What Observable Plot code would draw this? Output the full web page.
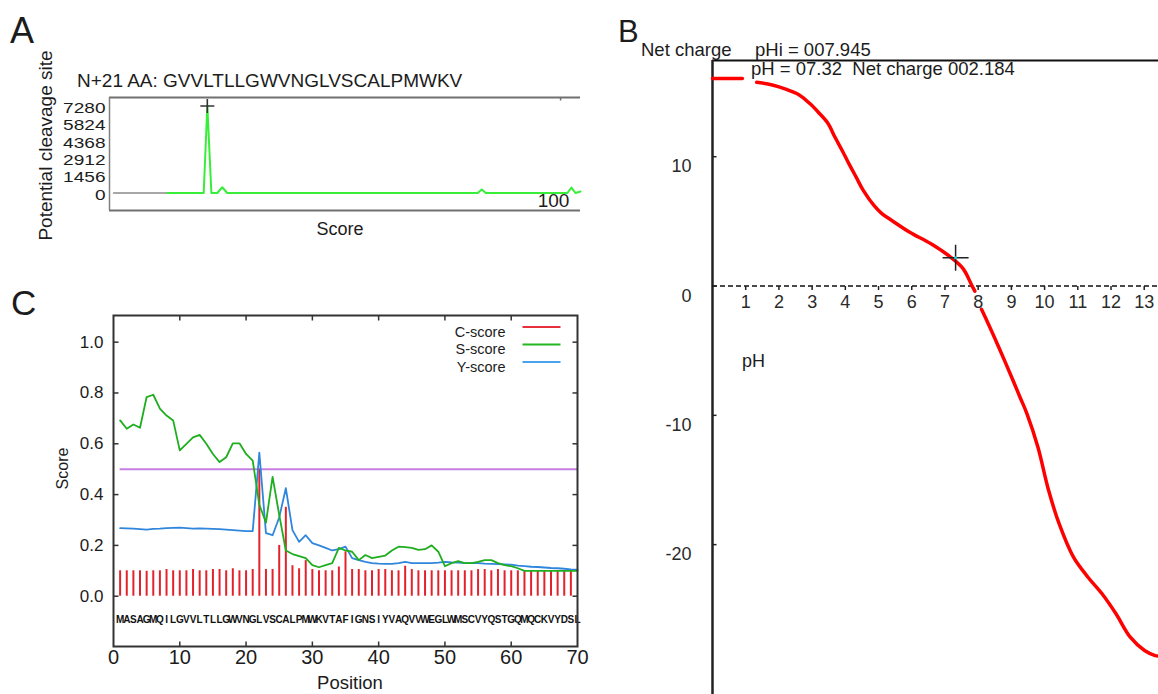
<!DOCTYPE html>
<html><head><meta charset="utf-8">
<script src="https://cdn.jsdelivr.net/npm/d3@7"></script>
<script src="https://cdn.jsdelivr.net/npm/@observablehq/plot@0.6"></script>
<style>
html,body{margin:0;padding:0;background:#fff;}
#root{position:relative;width:1158px;height:694px;overflow:hidden;font-family:"Liberation Sans",Arial,Helvetica,sans-serif;color:#1c1c1c;background:#fff;}
.lbl{position:absolute;line-height:1;white-space:pre;}
</style></head><body><div id="root"></div>
<script>
// ---------------- Panel A data ----------------
const aTitle = "N+21 AA: GVVLTLLGWVNGLVSCALPMWKV";
const aYLabel = "Potential cleavage site";
const aXLabel = "Score";
const aYTicks = [0, 1456, 2912, 4368, 5824, 7280];
const aXTicks = [100];
const aBasePos = [1.3, 13.2];
const aBaseVal = [0, 0];
const aPos = [13.2, 21.2, 22, 22.9, 24.2, 25.3, 26.4, 81.7, 82.6, 83.5, 101.5, 102.4, 103.3, 104.4];
const aVal = [0, 0, 7280, 0, 0, 480, 0, 0, 300, 0, 0, 450, 0, 120];
const aPeak = [{pos: 22, val: 7280}];
const aXDomain = [0.4, 104.4];
const aYDomain = [-1464, 7991];

// ---------------- Panel B data ----------------
const bPH = [0, 0.45, 0.9,
  1.33, 1.8, 2.18, 2.6, 2.94, 3.2, 3.47, 3.69, 3.9, 4.11, 4.33, 4.54, 4.86, 5.1, 5.4, 5.94, 6.58, 7.17, 7.55, 7.81, 7.9,
  8.1, 8.3, 8.62, 9.05, 9.26, 9.47, 9.8, 10.12, 10.44, 10.87, 11.3, 11.73, 12.15, 12.58, 13.01, 13.33, 13.43];
const bCharge = [16.05, 16.05, 16.05,
  15.76, 15.55, 15.25, 14.8, 14.09, 13.4, 12.6, 11.5, 10.5, 9.45, 8.4, 7.39, 6.23, 5.6, 5.07, 4.16, 3.26, 2.23, 1.33, 0.04, -0.4,
  -1.8, -2.9, -4.73, -7.31, -8.6, -9.88, -12.47, -15.8, -18.4, -20.97, -22.5, -23.8, -25.35, -27.16, -28.19, -28.58, -28.62];
const bSeg = [0, 0, 0,
  1, 1, 1, 1, 1, 1, 1, 1, 1, 1, 1, 1, 1, 1, 1, 1, 1, 1, 1, 1, 1,
  2, 2, 2, 2, 2, 2, 2, 2, 2, 2, 2, 2, 2, 2, 2, 2, 2];
const bXTicks = [1, 2, 3, 4, 5, 6, 7, 8, 9, 10, 11, 12, 13];
const bYTicks = [10, 0, -10, -20];
const bZero = [0];
const bMark = [{pH: 7.32, charge: 2.184}];
const bXDomain = [0, 13.43];
const bYDomain = [-31.59, 17.44];
const bTexts = {
  netCharge: "Net charge",
  pHi: "pHi = 007.945",
  mark: "pH = 07.32  Net charge 002.184",
  xLabel: "pH"
};

// ---------------- Panel C data ----------------
const cSeqString = "MASAGMQILGVVLTLLGWVNGLVSCALPMWKVTAFIGNSIYVAQVVWEGLWMSCVYQSTGQMQCKVYDSL";
const cSeq = cSeqString.split("");
const cCPos = [1,2,3,4,5,6,7,8,9,10,11,12,13,14,15,16,17,18,19,20,21,22,23,24,25,26,27,28,29,30,31,32,33,34,35,
  36,37,38,39,40,41,42,43,44,45,46,47,48,49,50,51,52,53,54,55,56,57,58,59,60,61,62,63,64,65,66,67,68,69];
const cCScore = [0.10,0.10,0.10,0.10,0.098,0.10,0.10,0.105,0.10,0.10,0.10,0.105,0.10,0.10,0.105,0.105,0.10,0.108,0.10,0.10,
  0.105,0.50,0.105,0.105,0.20,0.35,0.12,0.108,0.14,0.105,0.10,0.10,0.10,0.115,0.175,0.105,0.105,0.10,0.10,0.105,
  0.105,0.10,0.10,0.118,0.105,0.10,0.10,0.10,0.10,0.10,0.10,0.10,0.10,0.10,0.105,0.105,0.10,0.105,0.10,0.10,
  0.10,0.10,0.10,0.10,0.10,0.10,0.10,0.10,0.10];
const cLinePos = [1,2,3,4,5,6,7,8,9,10,11,12,13,14,15,16,17,18,19,20,21,22,23,24,25,26,27,28,29,30,31,32,33,34,35,
  36,37,38,39,40,41,42,43,44,45,46,47,48,49,50,51,52,53,54,55,56,57,58,59,60,61,62,63,64,65,66,67,68,69,70];
const cSScore = [0.692,0.659,0.676,0.663,0.784,0.793,0.738,0.711,0.692,0.574,0.60,0.625,0.635,0.60,0.56,0.528,0.547,0.602,0.602,0.56,
  0.534,0.36,0.29,0.47,0.32,0.18,0.166,0.158,0.15,0.122,0.114,0.122,0.13,0.19,0.18,0.175,0.142,0.162,0.15,0.155,
  0.16,0.18,0.195,0.193,0.19,0.182,0.185,0.20,0.175,0.118,0.13,0.138,0.13,0.13,0.135,0.142,0.142,0.13,0.122,0.118,
  0.11,0.10,0.10,0.10,0.10,0.10,0.10,0.10,0.10,0.10];
const cYScore = [0.268,0.267,0.266,0.264,0.262,0.265,0.266,0.268,0.269,0.27,0.268,0.266,0.267,0.266,0.265,0.264,0.262,0.26,0.258,0.256,
  0.256,0.565,0.248,0.24,0.31,0.425,0.26,0.214,0.24,0.209,0.20,0.19,0.18,0.185,0.195,0.15,0.142,0.135,0.13,0.128,
  0.127,0.127,0.13,0.135,0.13,0.13,0.13,0.13,0.132,0.135,0.133,0.132,0.13,0.13,0.13,0.128,0.127,0.126,0.125,0.124,
  0.12,0.118,0.116,0.115,0.113,0.111,0.11,0.108,0.106,0.105];
const cThreshold = [0.5];
const cXTicks = [0, 10, 20, 30, 40, 50, 60, 70];
const cXInner = [10, 20, 30, 40, 50, 60];
const cYTicks = [0, 0.2, 0.4, 0.6, 0.8, 1.0];
const cLegend = ["C-score", "S-score", "Y-score"];
const cColors = ["#e4222c", "#1fae1f", "#2f86dc"];
const cLegendColors = ["#e8303c", "#22b822", "#4aa2ec"];
const cYLabel = "Score";
const cXLabel = "Position";
const cXDomain = [0, 70];
const cYDomain = [-0.198, 1.105];

// ---------------- helpers ----------------
const FONT = '"Liberation Sans", Arial, Helvetica, sans-serif';
const root = document.getElementById("root");
const INK = "#1c1c1c";

function label(text, x, baseline, size, opts = {}) {
  const d = document.createElement("div");
  d.className = "lbl";
  d.textContent = text;
  d.style.fontSize = size + "px";
  if (opts.weight) d.style.fontWeight = opts.weight;
  d.style.top = (baseline - 0.8465 * size) + "px";
  d.style.left = x + "px";
  if (opts.anchor === "middle") d.style.transform = "translateX(-50%)";
  root.appendChild(d);
}
function mount(svg, left, top) {
  svg.style.position = "absolute";
  svg.style.left = left + "px";
  svg.style.top = top + "px";
  root.appendChild(svg);
}
const vline = L => ({draw(c) { c.moveTo(0, 0); c.lineTo(0, L); }});
const hline = L => ({draw(c) { c.moveTo(0, 0); c.lineTo(L, 0); }});
const hseg = L => ({draw(c) { c.moveTo(-L, 0); c.lineTo(L, 0); }});
const cross = L => ({draw(c) { c.moveTo(-L, 0); c.lineTo(L, 0); c.moveTo(0, -L); c.lineTo(0, L); }});
const baseStyle = {fontFamily: FONT, background: "transparent", overflow: "visible", color: INK};

// ---------------- Panel A ----------------
const aLine = aPos.map((p, i) => ({pos: p, val: aVal[i]}));
const aBase = aBasePos.map((p, i) => ({pos: p, val: aBaseVal[i]}));
const plotA = Plot.plot({
  width: 600, height: 240,
  marginLeft: 109, marginRight: 20, marginTop: 97, marginBottom: 30,
  x: {domain: aXDomain, axis: null},
  y: {domain: aYDomain, axis: null},
  style: baseStyle,
  marks: [
    Plot.ruleY(aYDomain, {stroke: "#707070", strokeWidth: 2}),
    Plot.ruleX([aXDomain[0]], {stroke: "#808080", strokeWidth: 1.5}),
    Plot.dot(aXTicks, {x: d => d, frameAnchor: "top", symbol: vline(3), stroke: "#707070", fill: "none"}),
    Plot.line(aBase, {x: "pos", y: "val", stroke: "#8a8a8a", strokeWidth: 1.6}),
    Plot.line(aLine, {x: "pos", y: "val", stroke: "#38ee38", strokeWidth: 2}),
    Plot.dot(aPeak, {x: "pos", y: "val", symbol: cross(7), stroke: "#333", strokeWidth: 1.6, fill: "none"}),
    Plot.text(aYTicks, {y: d => d, text: d => String(d), frameAnchor: "left", dx: -4, dy: 2, textAnchor: "end", fontSize: 15, fill: INK}),
    Plot.text(aXTicks, {x: d => d, text: d => String(d), frameAnchor: "bottom", dx: -7, dy: -4, fontSize: 19, fill: INK}),
    Plot.text([aYLabel], {x: null, y: null, text: d => d, frameAnchor: "left", textAnchor: "middle", rotate: -90, dx: -64, dy: -8.5, fontSize: 19, fill: INK})
  ]
});
// the reference's tick numbers in panel A are drawn wide: stretch glyphs horizontally
const aTickGroup = plotA.querySelectorAll('g[aria-label="text"]')[0];
if (aTickGroup) aTickGroup.querySelectorAll("text").forEach(t => {
  t.setAttribute("textLength", 10.6 * t.textContent.length);
  t.setAttribute("lengthAdjust", "spacingAndGlyphs");
});
mount(plotA, 0, 0);

// ---------------- Panel B ----------------
const bData = bPH.map((p, i) => ({pH: p, charge: bCharge[i], seg: bSeg[i]}));
const plotB = Plot.plot({
  width: 558, height: 694,
  marginLeft: 112, marginRight: 0, marginTop: 60, marginBottom: 0,
  x: {domain: bXDomain, axis: null},
  y: {domain: bYDomain, axis: null},
  style: baseStyle,
  marks: [
    Plot.ruleY([bYDomain[1]], {stroke: "#111", strokeWidth: 2}),
    Plot.ruleX([bXDomain[0]], {stroke: "#222", strokeWidth: 2.5}),
    Plot.ruleY(bZero, {stroke: "#111", strokeWidth: 1.6, strokeDasharray: "5,3"}),
    Plot.dot(bXTicks, {x: d => d, y: () => bZero[0], symbol: vline(4), stroke: "#222", fill: "none"}),
    Plot.dot(bYTicks, {y: d => d, frameAnchor: "left", symbol: hline(4), stroke: "#222", strokeWidth: 1.5, fill: "none"}),
    Plot.line(bData, {x: "pH", y: "charge", z: "seg", stroke: "#ff0000", strokeWidth: 3.5, curve: "catmull-rom"}),
    Plot.dot(bMark, {x: "pH", y: "charge", symbol: cross(13), stroke: "#222", strokeWidth: 1.5, fill: "none"}),
    Plot.dot(bMark, {x: "pH", y: "charge", r: 1.5, fill: "#2cc", stroke: "none"}),
    Plot.text(bXTicks, {x: d => d, y: () => bZero[0], dy: 16, text: d => String(d), fontSize: 18, fill: "#2a2a2a"}),
    Plot.text(bYTicks, {y: d => d, text: d => String(d), frameAnchor: "left", dx: -21, dy: 10, textAnchor: "end", fontSize: 18, fill: "#2a2a2a"})
  ]
});
mount(plotB, 600, 0);

// ---------------- Panel C ----------------
const cBars = cCPos.map((p, i) => ({pos: p, c: cCScore[i]}));
const cLines = cLinePos.map((p, i) => ({pos: p, s: cSScore[i], y: cYScore[i]}));
const cMarks = [
  Plot.ruleY(cThreshold, {x1: () => cLinePos[0], x2: () => cLinePos[cLinePos.length - 1], stroke: "#c77ee0", strokeWidth: 2}),
  Plot.ruleX(cBars, {x: "pos", y1: () => 0, y2: "c", stroke: cColors[0], strokeWidth: 2}),
  Plot.line(cLines, {x: "pos", y: "y", stroke: cColors[2], strokeWidth: 1.8}),
  Plot.line(cLines, {x: "pos", y: "s", stroke: cColors[1], strokeWidth: 1.8}),
  Plot.text(cSeq, {x: (d, i) => i + 1, text: d => d, frameAnchor: "bottom", dy: -24, fontSize: 10, fontWeight: "bold", fill: "#111"}),
  Plot.frame({stroke: "#333", strokeWidth: 2}),
  Plot.dot(cXInner, {x: d => d, frameAnchor: "bottom", symbol: vline(-5), stroke: "#333", strokeWidth: 1.5, fill: "none"}),
  Plot.dot(cXInner, {x: d => d, frameAnchor: "top", symbol: vline(5), stroke: "#333", strokeWidth: 1.5, fill: "none"}),
  Plot.dot(cYTicks, {y: d => d, frameAnchor: "left", symbol: hline(5), stroke: "#333", strokeWidth: 1.5, fill: "none"}),
  Plot.dot(cYTicks, {y: d => d, frameAnchor: "right", symbol: hline(-5), stroke: "#333", strokeWidth: 1.5, fill: "none"}),
  Plot.text(cYTicks, {y: d => d, text: d => d3.format(".1f")(d), frameAnchor: "left", dx: -10, textAnchor: "end", fontSize: 17, fill: INK}),
  Plot.text(cXTicks, {x: d => d, text: d => String(d), frameAnchor: "bottom", dy: 17, fontSize: 20, fill: INK}),
  Plot.text([cYLabel], {x: null, y: null, text: d => d, frameAnchor: "left", textAnchor: "middle", rotate: -90, dx: -51, dy: -12.5, fontSize: 16, fill: INK})
];
cLegend.forEach((name, i) => {
  cMarks.push(Plot.text([name], {x: null, y: null, text: d => d, frameAnchor: "top-right", dx: -72, dy: 11 + 17.5 * i, textAnchor: "end", fontSize: 14.5, fill: INK}));
  cMarks.push(Plot.dot([name], {x: null, y: null, frameAnchor: "top-right", dx: -36, dy: 11.5 + 17.5 * i, symbol: hseg(19), stroke: cLegendColors[i], strokeWidth: 2.2, fill: "none"}));
});
const plotC = Plot.plot({
  width: 600, height: 394,
  marginLeft: 113, marginRight: 23, marginTop: 15, marginBottom: 48,
  x: {domain: cXDomain, axis: null},
  y: {domain: cYDomain, axis: null},
  style: baseStyle,
  marks: cMarks
});
mount(plotC, 0, 300);

// ---------------- HTML labels ----------------
label("A", 10, 43, 36);
label("B", 618, 42, 31);
label("C", 11, 315, 35);
label(aTitle, 77, 87, 19);
label(aXLabel, 340, 235, 18, {anchor: "middle"});
label(bTexts.netCharge, 641, 57, 18.5);
label(bTexts.pHi, 755, 57, 18.5);
label(bTexts.mark, 751, 76, 18.5);
label(bTexts.xLabel, 742, 367, 18);
label(cXLabel, 350, 690, 18.5, {anchor: "middle"});
</script></body></html>
